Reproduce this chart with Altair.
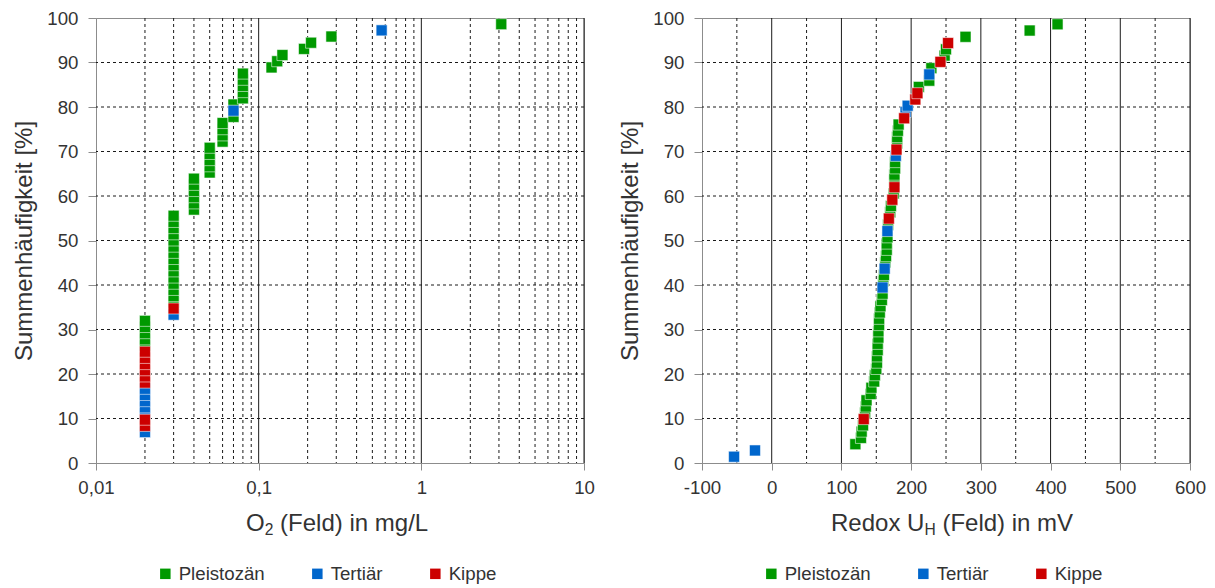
import altair as alt
import pandas as pd

FONT = "Liberation Sans"
TXT = "#333333"
SERIES = ["Pleistozän", "Tertiär", "Kippe"]
CODES = {"P": "Pleistozän", "T": "Tertiär", "K": "Kippe"}
COLORS = ["#009900", "#0066CC", "#CC0000"]

# ---------------- left panel: O2 (Feld) in mg/L ----------------
O2_N = 71                       # Summenhäufigkeit = rank / (N + 1)
O2_RANK = list(range(5, 72))    # ranks 1-4 lie below 0,01 mg/L
O2_VALUE = [
    0.02, 0.02, 0.02, 0.02, 0.02, 0.02, 0.02, 0.02, 0.02, 0.02,
    0.02, 0.02, 0.02, 0.02, 0.02, 0.02, 0.02, 0.02, 0.02,
    0.03, 0.03, 0.03, 0.03, 0.03, 0.03, 0.03, 0.03, 0.03, 0.03,
    0.03, 0.03, 0.03, 0.03, 0.03, 0.03, 0.03,
    0.04, 0.04, 0.04, 0.04, 0.04, 0.04,
    0.05, 0.05, 0.05, 0.05, 0.05,
    0.06, 0.06, 0.06, 0.06,
    0.07, 0.07, 0.07,
    0.08, 0.08, 0.08, 0.08, 0.08,
    0.12, 0.13, 0.14, 0.19, 0.21, 0.28, 0.57, 3.1,
]
O2_SERIES = ("TKKTTTTTKKKKKKPPPPP" "TKPPPPPPPPPPPPPPP" "PPPPPP" "PPPPP"
             "PPPP" "PTP" "PPPPP" "PPPPPPTP")
O2_TICKS = [0.01, 0.1, 1, 10]
O2_TICK_LABELS = ["0,01", "0,1", "1", "10"]
O2_GRID_MAJOR = [0.1, 1, 10]
O2_GRID_MINOR = [0.02, 0.03, 0.04, 0.05, 0.06, 0.07, 0.08, 0.09,
                 0.2, 0.3, 0.4, 0.5, 0.6, 0.7, 0.8, 0.9,
                 2, 3, 4, 5, 6, 7, 8, 9]

# ---------------- right panel: Redox UH (Feld) in mV ----------------
RX_N = 70
RX_RANK = list(range(1, 71))
RX_VALUE = [
    -54, -24, 120, 128, 129, 131, 132, 134, 135, 136,
    142, 143, 147, 148, 150, 151, 151, 152, 152, 153,
    153, 154, 154, 155, 156, 158, 159, 159, 160, 161,
    162, 163, 164, 165, 165, 166, 166, 167, 168, 170,
    171, 173, 175, 176, 176, 176, 177, 177, 178, 179,
    180, 180, 181, 182, 190, 192, 195, 206, 209, 211,
    226, 226, 229, 242, 248, 250, 253, 278, 370, 410,
]
RX_SERIES = ("TTPPPPKPPP" "PPPPPPPPPP" "PPPPPPPTPP" "TPPPPPTPKP"
             "PKPKPPPPTK" "PPPPKTTKKP" "PTPKPPKPPP")
RX_TICKS = [-100, 0, 100, 200, 300, 400, 500, 600]
RX_TICK_LABELS = ["-100", "0", "100", "200", "300", "400", "500", "600"]
RX_GRID_MAJOR = [0, 100, 200, 300, 400, 500, 600]
RX_GRID_MINOR = [-50, 50, 150, 250, 350, 450, 550]

Y_TICKS = [0, 10, 20, 30, 40, 50, 60, 70, 80, 90, 100]
Y_GRID = [10, 20, 30, 40, 50, 60, 70, 80, 90]

W, H = 488, 445
GRID_COLOR = "#1a1a1a"


def frame(ranks, values, codes, n):
    rows = []
    for r, v, c in zip(ranks, values, codes):
        s = CODES[c]
        rows.append({"value": v, "series": s, "pct": r / (n + 1) * 100,
                     "ord": SERIES.index(s) * 1000 + r})
    return pd.DataFrame(rows)


def label_expr(ticks, labels):
    expr = "''"
    for t, l in reversed(list(zip(ticks, labels))):
        tol = abs(t) * 0.001 + 0.0001
        expr = f"abs(datum.value - ({t})) < {tol:.6f} ? '{l}' : " + expr
    return expr


def text_piece(text, x, y, size):
    return alt.Chart(alt.Data(values=[{"a": 1}])).mark_text(
        text=text, font=FONT, fontSize=size, align="left",
        baseline="alphabetic", color=TXT
    ).encode(x=alt.value(x), y=alt.value(y))


def panel(df, xscale, ticks, tick_labels, gmajor, gminor, title_parts):
    yscale = alt.Scale(domain=[0, 100], nice=False, zero=False)
    xaxis = alt.Axis(values=ticks, labelExpr=label_expr(ticks, tick_labels),
                     title=None, grid=False, tickSize=7, labelPadding=8,
                     labelOverlap=False, labelFlush=False, labelBound=False)
    yaxis = alt.Axis(values=Y_TICKS, title="Summenhäufigkeit [%]",
                     grid=False, tickSize=8, labelPadding=10,
                     titlePadding=10, labelOverlap=False)
    X = alt.X("value:Q", scale=xscale, axis=xaxis)
    Y = alt.Y("pct:Q", scale=yscale, axis=yaxis)

    minor = alt.Chart(pd.DataFrame({"value": gminor})).mark_rule(
        color=GRID_COLOR, strokeWidth=1, strokeDash=[3, 3]
    ).encode(x=X)
    major = alt.Chart(pd.DataFrame({"value": gmajor})).mark_rule(
        color=GRID_COLOR, strokeWidth=1
    ).encode(x=X)
    hgrid = alt.Chart(pd.DataFrame({"pct": Y_GRID})).mark_rule(
        color=GRID_COLOR, strokeWidth=1, strokeDash=[3, 3]
    ).encode(y=Y)
    pts = alt.Chart(df).mark_square(
        size=121, opacity=1, stroke="white", strokeWidth=1, strokeOpacity=0.55
    ).encode(
        x=X, y=Y,
        color=alt.Color("series:N", scale=alt.Scale(domain=SERIES, range=COLORS),
                        legend=alt.Legend(title=None, orient="none", legendX=60,
                                          legendY=546, direction="horizontal",
                                          symbolType="square", symbolSize=110,
                                          symbolStrokeWidth=0, labelFontSize=18.67,
                                          labelFont=FONT, labelColor=TXT,
                                          labelOffset=4, columnPadding=43,
                                          padding=0)),
        order=alt.Order("ord:Q"),
    )
    titles = [text_piece(t, x, y, s) for (t, x, y, s) in title_parts]
    return alt.layer(minor, major, hgrid, pts, *titles).properties(width=W, height=H)


left = panel(
    frame(O2_RANK, O2_VALUE, O2_SERIES, O2_N),
    alt.Scale(type="log", domain=[0.01, 10], nice=False),
    O2_TICKS, O2_TICK_LABELS, O2_GRID_MAJOR, O2_GRID_MINOR,
    [("O", 150, 513, 24), ("2", 168.7, 517, 15.6), ("(Feld) in mg/L", 184.1, 513, 24)],
)
right = panel(
    frame(RX_RANK, RX_VALUE, RX_SERIES, RX_N),
    alt.Scale(domain=[-100, 600], nice=False, zero=False),
    RX_TICKS, RX_TICK_LABELS, RX_GRID_MAJOR, RX_GRID_MINOR,
    [("Redox U", 129, 513, 24), ("H", 222.4, 517, 15.6), ("(Feld) in mV", 240.4, 513, 24)],
)

chart = alt.hconcat(left, right, spacing=23).resolve_scale(
    color="independent"
).configure_view(stroke="#8c8c8c", strokeWidth=1).configure_axis(
    labelFont=FONT, labelFontSize=18.67, labelColor=TXT,
    titleFont=FONT, titleFontSize=24, titleFontWeight="normal", titleColor=TXT,
    domainColor="#8c8c8c", tickColor="#8c8c8c",
).properties(padding={"left": 4, "top": 0, "right": 0, "bottom": 0},
             background="white")

chart.save("out.html", embed_options={"renderer": "svg", "actions": False})
